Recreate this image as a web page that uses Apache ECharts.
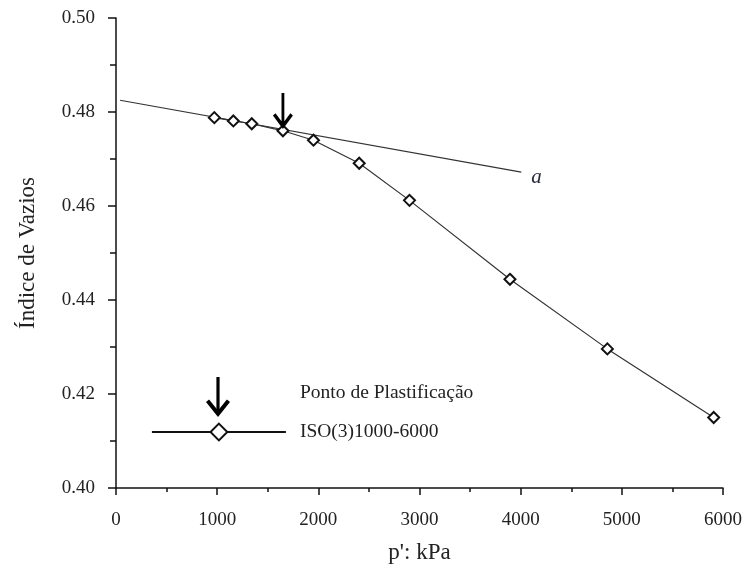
<!DOCTYPE html>
<html>
<head>
<meta charset="utf-8">
<script src="https://cdn.jsdelivr.net/npm/echarts@6/dist/echarts.min.js"></script>
<style>
html,body{margin:0;padding:0;background:#fff;}
#chart{width:745px;height:569px;}
</style>
</head>
<body>
<div id="chart"></div>
<script>
// ---- data ----
const pressure = [972, 1160, 1342, 1650, 1952, 2404, 2901, 3894, 4857, 5908];
const voidRatio = [0.4788, 0.4781, 0.4775, 0.4760, 0.4740, 0.4691, 0.4612, 0.4444, 0.4296, 0.4150];
const lineAX = [40, 4006];
const lineAY = [0.4825, 0.4672];
const yieldX = [1650];
const yieldY = [0.4764];
const xTicks = [0, 1000, 2000, 3000, 4000, 5000, 6000];
const yTicks = [0.40, 0.42, 0.44, 0.46, 0.48, 0.50];
const seriesName = 'ISO(3)1000-6000';
const yieldName = 'Ponto de Plastificação';
const lineALabel = 'a';

const FONT = '"Liberation Serif", "DejaVu Serif", serif';
const TXT = '#222';
const ARROW = 'path://M10.3,0 L13.7,0 L13.7,34.5 L10.3,34.5 Z M0,25 L3.1,22.5 L12,33.6 L20.9,22.5 L24,25 L12,40 Z';
const CHEVRON = [[0, 25], [3.1, 22.5], [12, 33.6], [20.9, 22.5], [24, 25], [12, 40]];

const zip = (xs, ys) => xs.map((x, i) => [x, ys[i]]);

const chart = echarts.init(document.getElementById('chart'), null, {renderer: 'canvas'});
chart.setOption({
  animation: false,
  backgroundColor: '#fff',
  textStyle: {fontFamily: FONT},
  grid: {left: 116, right: 22, top: 18, bottom: 81, containLabel: false},
  legend: {
    data: [seriesName],
    left: 151, top: 422,
    itemWidth: 134, itemHeight: 21,
    padding: 0,
    selectedMode: false,
    lineStyle: {width: 1.8, color: '#111'},
    textStyle: {fontFamily: FONT, fontSize: 19.5, color: TXT, padding: [0, 0, 0, 9]}
  },
  graphic: [
    {
      type: 'group',
      left: 206, top: 377,
      silent: true,
      children: [
        {type: 'rect', shape: {x: 10.4, y: 0, width: 3.2, height: 34.5}, style: {fill: '#000'}},
        {type: 'polygon', shape: {points: CHEVRON}, style: {fill: '#000'}}
      ]
    },
    {
      type: 'text',
      left: 300, top: 383,
      style: {text: yieldName, font: '19.5px ' + FONT, fill: TXT},
      silent: true
    }
  ],
  xAxis: {
    type: 'value',
    min: xTicks[0], max: xTicks[xTicks.length - 1], interval: 1000,
    name: "p': kPa", nameLocation: 'middle', nameGap: 53,
    nameTextStyle: {fontFamily: FONT, fontSize: 23, color: TXT},
    axisLine: {show: true, onZero: false, lineStyle: {color: '#111', width: 1.5}},
    axisTick: {show: true, inside: false, length: 7, lineStyle: {color: '#111', width: 1.5}},
    minorTick: {show: true, splitNumber: 2, length: 4, lineStyle: {color: '#111', width: 1.5}},
    axisLabel: {fontFamily: FONT, fontSize: 19, color: TXT, margin: 23, formatter: v => String(v)},
    splitLine: {show: false}
  },
  yAxis: {
    type: 'value',
    min: yTicks[0], max: yTicks[yTicks.length - 1], interval: 0.02,
    name: 'Índice de Vazios', nameLocation: 'middle', nameGap: 77,
    nameTextStyle: {fontFamily: FONT, fontSize: 23, color: TXT},
    axisLine: {show: true, onZero: false, lineStyle: {color: '#111', width: 1.5}},
    axisTick: {show: true, inside: false, length: 8, lineStyle: {color: '#111', width: 1.5}},
    minorTick: {show: true, splitNumber: 2, length: 6, lineStyle: {color: '#111', width: 1.5}},
    axisLabel: {fontFamily: FONT, fontSize: 19, color: TXT, margin: 21, formatter: v => v.toFixed(2)},
    splitLine: {show: false}
  },
  series: [
    {
      name: lineALabel,
      type: 'line',
      data: zip(lineAX, lineAY),
      showSymbol: false,
      symbol: 'none',
      lineStyle: {color: '#333', width: 1.2},
      silent: true,
      z: 1,
      endLabel: {
        show: true, formatter: lineALabel, distance: 10, offset: [0, 5],
        fontFamily: FONT, fontStyle: 'italic', fontSize: 21, color: '#2a2a40'
      }
    },
    {
      name: seriesName,
      type: 'line',
      data: zip(pressure, voidRatio),
      symbol: 'emptyDiamond',
      symbolSize: 11,
      color: '#111',
      lineStyle: {color: '#333', width: 1.2},
      itemStyle: {color: '#111', borderWidth: 1.7, borderColor: '#111'},
      z: 2
    },
    {
      name: yieldName,
      type: 'scatter',
      data: zip(yieldX, yieldY),
      symbol: ARROW,
      symbolSize: [20, 36],
      symbolOffset: [0, '-50%'],
      color: '#000',
      itemStyle: {color: '#000', opacity: 1},
      z: 3
    }
  ]
});
</script>
</body>
</html>
